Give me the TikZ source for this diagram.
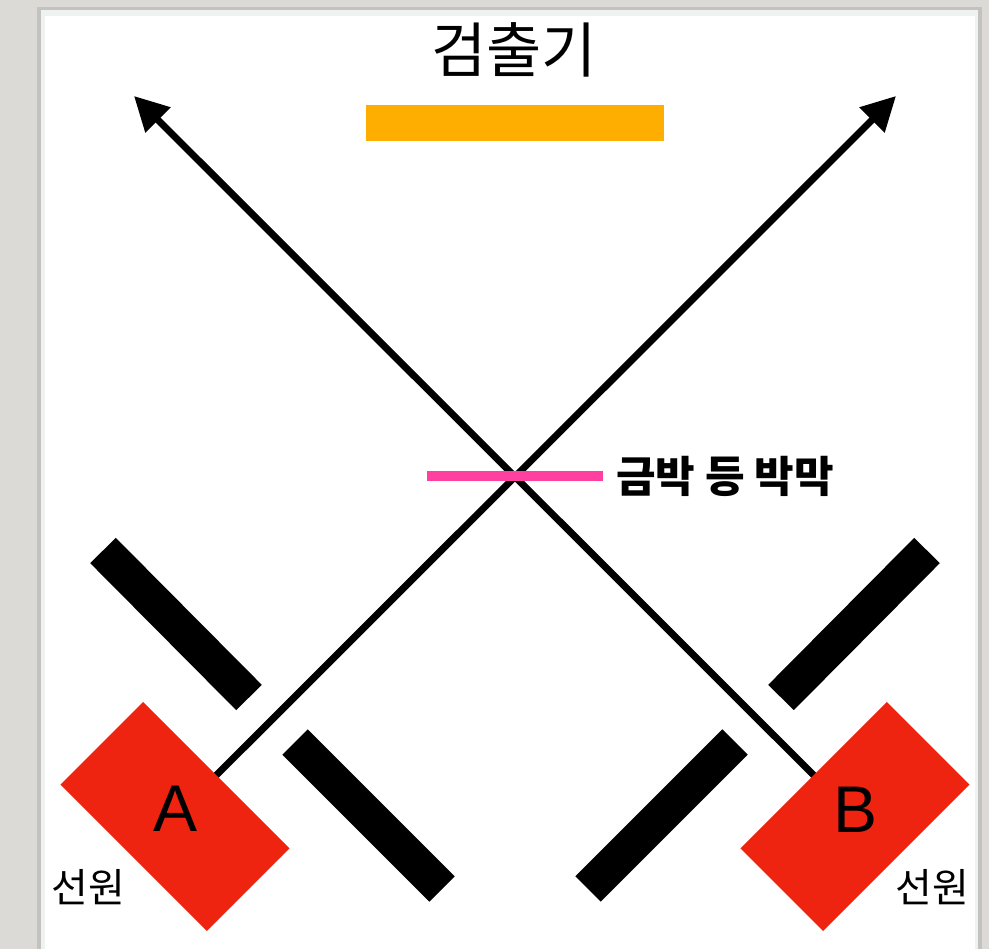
\documentclass[tikz,border=0pt]{standalone}
\usepackage{fontspec}
\newfontfamily\kr{Noto Sans CJK KR}
\newfontfamily\lat{Liberation Sans}
\usetikzlibrary{arrows.meta}
\definecolor{bgGrey}{HTML}{DCDAD6}
\definecolor{shadowGrey}{HTML}{C4C2BE}
\definecolor{panelEdge}{HTML}{EEF2F1}
\definecolor{detOrange}{HTML}{FEAE00}
\definecolor{filmPink}{HTML}{FF40A0}
\definecolor{srcRed}{HTML}{EE2310}
\tikzset{
  beam/.style={line width=7pt, -{Triangle[length=34pt,width=34pt]}},
  shield/.style={line width=36pt, line cap=butt},
  source/.style={fill=srcRed, minimum width=207pt, minimum height=117pt, inner sep=0pt, rotate=-45},
  srclabel/.style={font=\lat\fontsize{66}{66}\selectfont, inner sep=0pt},
  krlabel/.style={font=\kr\fontsize{40}{40}\selectfont, inner sep=0pt},
}
\begin{document}
\begin{tikzpicture}[x=1pt,y=-1pt]
\useasboundingbox (0,0) rectangle (989,949);
\fill[bgGrey] (0,0) rectangle (989,949);
\fill[shadowGrey] (37,7) rectangle (982,949);
\fill[panelEdge] (41,10) rectangle (978,949);
\fill[white] (45,16) rectangle (975,949);

\node[font=\kr\fontsize{60}{60}\selectfont, inner sep=0pt] (title) at (514,50) {검출기};
\node[fill=detOrange, minimum width=298pt, minimum height=36pt, inner sep=0pt] (det) at (515,123) {};

\coordinate (A) at (175,816.5);
\coordinate (B) at (855,816.5);
\coordinate (tipL) at (134,96);
\coordinate (tipR) at (896,96);

\draw[beam] (A) -- (tipR);
\draw[beam] (B) -- (tipL);

\draw[shield] (103,550.5) -- (249,697.5);
\draw[shield] (295,742) -- (442,889);
\draw[shield] (927,550.5) -- (781,697.5);
\draw[shield] (735,742) -- (588,889);

\node[fill=filmPink, minimum width=176pt, minimum height=10pt, inner sep=0pt] (film) at (515,476) {};
\node[krlabel, font=\kr\bfseries\fontsize{43}{43}\selectfont, anchor=west] (filmlabel) at (616,476) {금박 등 박막};

\node[source] (srcA) at (A) {};
\node[source, rotate=90] (srcB) at (B) {};
\node[srclabel] (labA) at (175.5,809) {A};
\node[srclabel] (labB) at (856,809.5) {B};
\node[krlabel] (wonA) at (88.5,887) {선원};
\node[krlabel] (wonB) at (932.5,887) {선원};
\end{tikzpicture}
\end{document}
